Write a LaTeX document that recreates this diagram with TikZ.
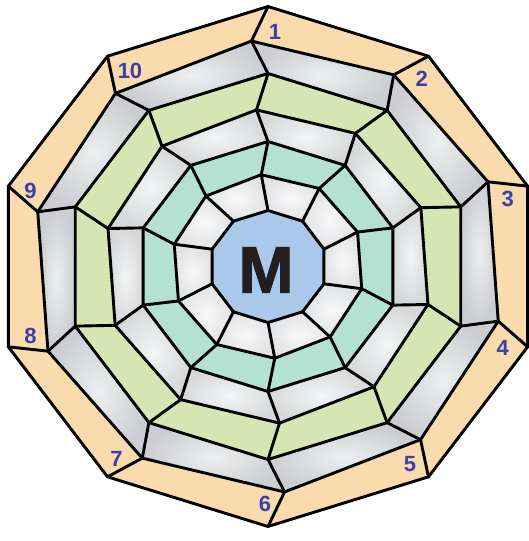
\documentclass[tikz,border=0pt]{standalone}
\usepackage{fontspec}
\setmainfont{Liberation Sans}
\newfontfamily\heavyfont[FakeBold=1.5]{Liberation Sans Bold}
\definecolor{peach}{HTML}{FADBAE}
\definecolor{grayA}{HTML}{CBCDD0}
\definecolor{grayAin}{HTML}{EDEEEF}
\definecolor{grayB}{HTML}{D6D8DA}
\definecolor{grayBin}{HTML}{F3F4F5}
\definecolor{leaf}{HTML}{D5E6B3}
\definecolor{teal}{HTML}{B5E1D2}
\definecolor{whiteR}{HTML}{E0E2E4}
\definecolor{whiteRin}{HTML}{F8F8F9}
\definecolor{core}{HTML}{A9C8EA}
\definecolor{numblue}{HTML}{3B40A6}
\definecolor{ink}{HTML}{231F20}
\tikzset{
  ringA/.style={fill=peach},
  ringB/.style={inner color=grayAin, outer color=grayA},
  ringC/.style={fill=leaf},
  ringD/.style={inner color=grayBin, outer color=grayB},
  ringE/.style={fill=teal},
  ringF/.style={inner color=whiteRin, outer color=whiteR},
  edge/.style={draw=black, line width=2.9pt, line join=round, line cap=round},
  num/.style={text=numblue, font=\fontsize{22}{22}\selectfont\bfseries, inner sep=0pt},
}
\newcommand\ringfill[2]{%
  \foreach \i in {0,...,9}{%
    \pgfmathtruncatemacro\kk{#1+1}%
    \pgfmathtruncatemacro\j{\i+1}%
    \path[#2] (p-#1-\i) -- (p-#1-\j) -- (p-\kk-\j) -- (p-\kk-\i) -- cycle;
  }%
}
\begin{document}
\begin{tikzpicture}[x=1pt,y=1pt]
\useasboundingbox (-268,-274.5) rectangle (261,266.5);
\foreach \R/\r [count=\k] in {260/0, 226/4, 193/0, 157/4, 125/0, 92/4, 56/0} {
  \foreach \i in {0,...,10} {
    \coordinate (p-\k-\i) at ({1.05*\R*cos(90-36*\i+\r)},{\R*sin(90-36*\i+\r)});
  }
}
% fills
\ringfill{1}{ringA}
\ringfill{2}{ringB}
\ringfill{3}{ringC}
\ringfill{4}{ringD}
\ringfill{5}{ringE}
\ringfill{6}{ringF}
\path[fill=core] (p-7-0) \foreach \i in {1,...,9}{ -- (p-7-\i)} -- cycle;
% strokes: rings
\foreach \k in {1,...,7}{
  \draw[edge] (p-\k-0) \foreach \i in {1,...,9}{ -- (p-\k-\i)} -- cycle;
}
% strokes: spokes
\foreach \k in {1,...,6}{
  \pgfmathtruncatemacro\kk{\k+1}
  \foreach \i in {0,...,9}{
    \draw[edge] (p-\k-\i) -- (p-\kk-\i);
  }
}
% labels
\node[num] (n1) at (7,234.5) {1};
\node[num] (n2) at (153.7,187.5) {2};
\node[num] (n3) at (239.8,67.5) {3};
\node[num] (n4) at (234.7,-81) {4};
\node[num] (n5) at (142,-197.5) {5};
\node[num] (n6) at (-3,-237.5) {6};
\node[num] (n7) at (-151.6,-192.5) {7};
\node[num] (n8) at (-237.6,-69.2) {8};
\node[num] (n9) at (-237.6,75.9) {9};
\node[num] (n10) at (-138,195.5) {10};
\node[text=ink, font=\heavyfont\fontsize{66}{66}\selectfont, inner sep=0pt] (M) at (-2,-3.5) {M};
\end{tikzpicture}
\end{document}
